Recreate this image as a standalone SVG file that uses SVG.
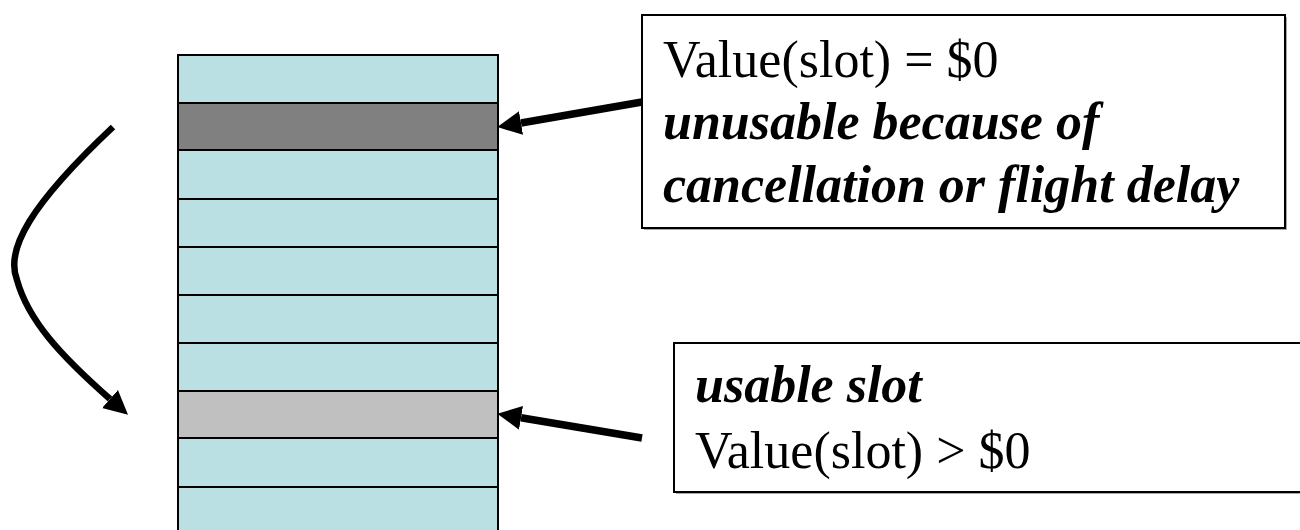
<svg xmlns="http://www.w3.org/2000/svg" width="1300" height="530" viewBox="0 0 1300 530">
  <style>
    .slot { fill: #BBE0E3; stroke: #000; stroke-width: 2; }
    .slot-dead { fill: #808080; stroke: #000; stroke-width: 2; }
    .slot-live { fill: #C0C0C0; stroke: #000; stroke-width: 2; }
    .box { fill: #fff; stroke: #000; stroke-width: 2; }
    .shadow { fill: #a8a8a8; }
    .txt { font-family: "Liberation Serif", "Times New Roman", serif; font-size: 52px; fill: #000; }
    .em { font-weight: bold; font-style: italic; }
    .wire { fill: none; stroke: #000; stroke-width: 7.5; }
    .bend { fill: none; stroke: #000; stroke-width: 6.5; }
  </style>
  <defs>
    <marker id="head" markerUnits="userSpaceOnUse" markerWidth="26" markerHeight="26"
            viewBox="0 -13 26 26" refX="0" refY="0" orient="auto">
      <path d="M0,-12 L24,0 L0,12 z" fill="#000"/>
    </marker>
  </defs>

  <rect width="1300" height="530" fill="#fff"/>

  <!-- stack of slots -->
  <g id="slots">
    <rect class="slot" x="178" y="55" width="320" height="48"/>
    <rect class="slot-dead" x="178" y="103" width="320" height="47"/>
    <rect class="slot" x="178" y="150" width="320" height="49"/>
    <rect class="slot" x="178" y="199" width="320" height="48"/>
    <rect class="slot" x="178" y="247" width="320" height="48"/>
    <rect class="slot" x="178" y="295" width="320" height="48"/>
    <rect class="slot" x="178" y="343" width="320" height="48"/>
    <rect class="slot-live" x="178" y="391" width="320" height="47"/>
    <rect class="slot" x="178" y="438" width="320" height="49"/>
    <rect class="slot" x="178" y="487" width="320" height="50"/>
  </g>

  <!-- callout: unusable slot -->
  <g id="note-unusable">
    <rect class="shadow" x="644" y="17" width="643" height="213"/>
    <rect class="box" x="642" y="15" width="643" height="213"/>
    <text class="txt" x="663" y="77">Value(slot) = $0</text>
    <text class="txt em" x="663" y="139">unusable because of</text>
    <text class="txt em" x="663" y="202">cancellation or flight delay</text>
  </g>

  <!-- callout: usable slot -->
  <g id="note-usable">
    <rect class="shadow" x="676" y="345" width="640" height="149"/>
    <rect class="box" x="674" y="343" width="640" height="149"/>
    <text class="txt em" x="695" y="402">usable slot</text>
    <text class="txt" x="695" y="468">Value(slot) &gt; $0</text>
  </g>

  <!-- connectors -->
  <g id="connectors">
    <line class="wire" x1="642" y1="102" x2="521" y2="123" marker-end="url(#head)"/>
    <line class="wire" x1="642" y1="438" x2="521" y2="417.8" marker-end="url(#head)"/>
    <path class="bend" d="M113,127 C30,205 5,250 17,280 C28,320 60,355 110,399" marker-end="url(#head)"/>
  </g>
</svg>
